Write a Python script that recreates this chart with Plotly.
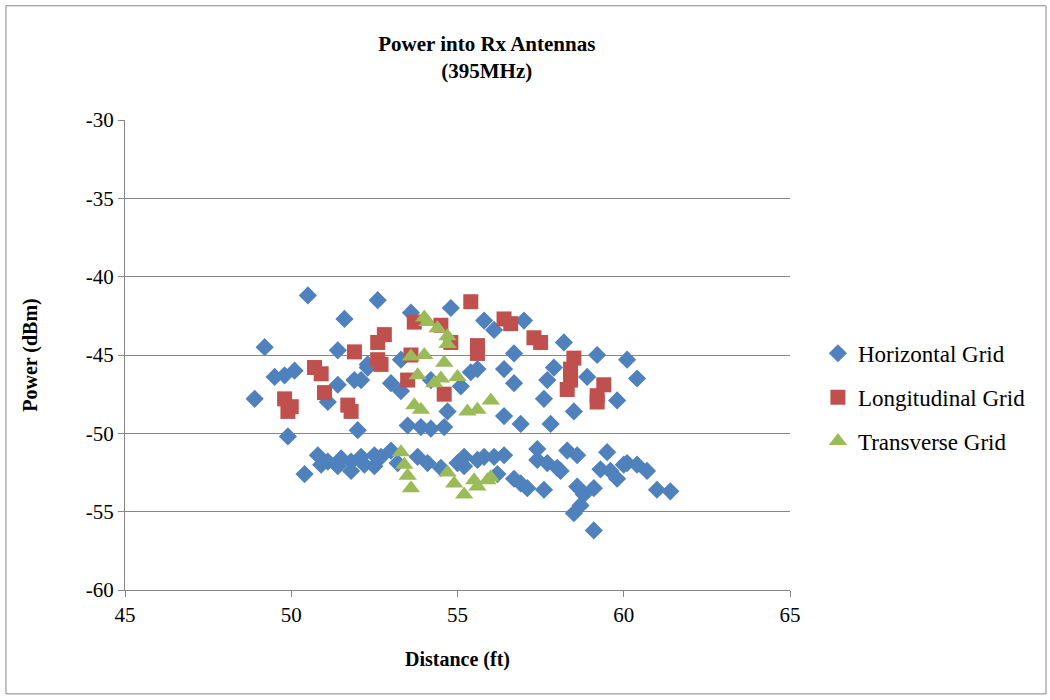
import plotly.graph_objects as go

# Horizontal grid measurements (distance ft, power dBm)
horiz_x = [48.9, 49.2, 49.5, 49.8, 50.1, 49.9, 50.5, 51.6, 51.4, 51.4, 51.1, 51.9, 52.0, 52.6, 52.3,
           52.1, 52.3, 53.0, 53.3, 53.3, 53.6, 54.2, 54.8, 55.1, 55.4, 55.6, 55.8, 56.1, 56.4, 56.7,
           56.7, 57.0, 57.7, 57.6, 57.9, 58.2, 54.7, 56.4, 56.9, 57.8, 58.5, 58.9, 59.2, 59.8, 60.1,
           60.4, 53.5, 53.9, 54.2, 54.6,
           50.4, 50.8, 51.1, 51.5, 51.8, 52.1, 52.5, 52.7, 53.0, 50.9, 51.8, 52.5, 53.8, 54.1, 54.5,
           55.0, 55.2, 55.2, 55.6, 55.8, 56.1, 56.4, 56.2, 56.7, 56.9, 57.1, 57.4, 57.4, 57.7, 58.0,
           57.6, 58.3, 58.6, 58.1, 58.6, 58.8, 59.1, 58.7, 58.5, 59.1, 59.5, 59.3, 59.8, 60.1, 60.4,
           60.7, 61.0, 61.4, 59.6, 60.0, 51.4, 52.2, 53.2]
horiz_y = [-47.8, -44.5, -46.4, -46.3, -46.0, -50.2, -41.2, -42.7, -44.7, -46.9, -48.0, -46.6, -49.8, -41.5, -45.8,
           -46.6, -45.6, -46.8, -47.3, -45.3, -42.3, -46.6, -42.0, -47.0, -46.1, -45.9, -42.8, -43.4, -45.9, -44.9,
           -46.8, -42.8, -46.6, -47.8, -45.8, -44.2, -48.6, -48.9, -49.4, -49.4, -48.6, -46.4, -45.0, -47.9, -45.3,
           -46.5, -49.5, -49.6, -49.7, -49.6,
           -52.6, -51.4, -51.8, -51.6, -51.8, -51.5, -51.4, -51.5, -51.1, -52.0, -52.4, -52.1, -51.5, -51.9, -52.2,
           -51.9, -51.5, -52.1, -51.7, -51.5, -51.5, -51.4, -52.6, -52.9, -53.2, -53.5, -51.0, -51.7, -51.9, -52.2,
           -53.6, -51.1, -51.4, -52.4, -53.4, -53.9, -53.5, -54.6, -55.1, -56.2, -51.2, -52.3, -52.9, -51.9, -52.0,
           -52.4, -53.6, -53.7, -52.4, -52.0, -52.1, -52.0, -51.9]

# Longitudinal grid measurements
longi_x = [49.8, 50.0, 49.9, 50.7, 50.9, 51.0, 51.7, 51.8, 51.9, 52.6, 52.8, 52.6, 52.7, 53.5, 53.6,
           53.7, 54.5, 54.8, 54.6, 55.4, 55.6, 55.6, 56.4, 56.6, 57.3, 57.5, 58.5, 58.4, 58.4, 58.3,
           59.4, 59.2, 59.2]
longi_y = [-47.8, -48.3, -48.6, -45.8, -46.2, -47.4, -48.2, -48.6, -44.8, -44.2, -43.7, -45.3, -45.6, -46.6, -45.0,
           -42.9, -43.1, -44.2, -47.5, -41.6, -44.4, -44.9, -42.7, -43.0, -43.9, -44.2, -45.2, -45.9, -46.6, -47.2,
           -46.9, -47.6, -48.0]

# Transverse grid measurements
trans_x = [54.0, 54.1, 54.4, 54.7, 54.7, 53.6, 54.0, 54.6, 53.8, 54.5, 54.3, 55.0, 53.7, 53.9, 55.3,
           55.6, 56.0, 53.3, 53.4, 53.5, 53.6, 54.7, 54.9, 55.2, 55.5, 55.6, 56.0, 55.9]
trans_y = [-42.6, -42.9, -43.3, -43.8, -44.3, -45.1, -45.0, -45.5, -46.3, -46.5, -46.8, -46.4, -48.2, -48.5, -48.6,
           -48.5, -47.9, -51.2, -52.0, -52.7, -53.5, -52.5, -53.2, -53.9, -53.0, -53.4, -52.8, -53.0]

x_ticks = [45, 50, 55, 60, 65]
y_ticks = [-60, -55, -50, -45, -40, -35, -30]

serif = "Liberation Serif, Times New Roman, serif"
axis_grey = "#868686"

fig = go.Figure()
fig.add_trace(go.Scatter(x=horiz_x, y=horiz_y, mode="markers", name="Horizontal Grid",
                         legendgroup="h",
                         marker=dict(symbol="diamond", size=14, color="#4F81BD")))
fig.add_trace(go.Scatter(x=longi_x, y=longi_y, mode="markers", name="Longitudinal Grid",
                         legendgroup="l",
                         marker=dict(symbol="square", size=15, color="#C0504D")))
fig.add_trace(go.Scatter(x=trans_x, y=trans_y, mode="markers", name="Transverse Grid",
                         legendgroup="t",
                         marker=dict(symbol="triangle-up", size=16, color="#9BBB59")))

fig.update_layout(
    width=1050, height=700,
    margin=dict(l=125, r=260, t=120, b=110),
    paper_bgcolor="white", plot_bgcolor="white",
    font=dict(family=serif, size=21, color="black"),
    title=dict(text="<b>Power into Rx Antennas<br>(395MHz)</b>",
               x=0.544, xref="paper", xanchor="center",
               y=0.927, yref="container", yanchor="top",
               font=dict(family=serif, size=21, color="black")),
    xaxis=dict(range=[45, 65], tickvals=x_ticks, ticktext=[str(v) for v in x_ticks],
               showgrid=False, zeroline=False,
               showline=True, linecolor=axis_grey, linewidth=1,
               ticks="outside", ticklen=6, tickcolor=axis_grey,
               tickfont=dict(size=21),
               title=dict(text="<b>Distance (ft)</b>", standoff=25, font=dict(size=20))),
    yaxis=dict(range=[-60, -30], tickvals=y_ticks, ticktext=[str(v) for v in y_ticks],
               showgrid=True, gridcolor=axis_grey, gridwidth=1, zeroline=False,
               showline=True, linecolor=axis_grey, linewidth=1,
               ticks="outside", ticklen=6, tickcolor=axis_grey,
               tickfont=dict(size=21),
               title=dict(text="<b>Power (dBm)</b>", standoff=42, font=dict(size=20))),
    legend=dict(x=1.042, xanchor="left", y=0.41, yanchor="middle",
                font=dict(family=serif, size=23), tracegroupgap=11,
                bgcolor="rgba(0,0,0,0)"),
    showlegend=True,
)

# outer chart border
fig.add_shape(type="rect", xref="paper", yref="paper",
              x0=-0.179, x1=1.385, y0=-0.221, y1=1.243,
              line=dict(color=axis_grey, width=1), fillcolor="rgba(0,0,0,0)", layer="below")

fig.write_html("out.html")
